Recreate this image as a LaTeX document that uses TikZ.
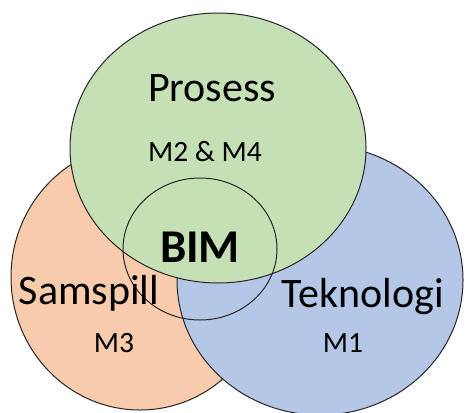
\documentclass[tikz,border=0pt]{standalone}
\usepackage{fontspec}
\setmainfont{Carlito}
\definecolor{gfill}{HTML}{C5E0B4}
\definecolor{ofill}{HTML}{F8CBAD}
\definecolor{bfill}{HTML}{B4C7E7}
\definecolor{edge}{HTML}{262626}
\begin{document}
\begin{tikzpicture}[x=1pt,y=-1pt,
  setshape/.style={draw=edge,line width=1pt},
  big/.style={font=\fontsize{42}{42}\selectfont,inner sep=0pt},
  small/.style={font=\fontsize{29.5}{29.5}\selectfont,inner sep=0pt},
  bimtext/.style={font=\fontsize{47}{47}\selectfont\bfseries,inner sep=0pt}]
\useasboundingbox (0,0) rectangle (465,412);
\fill[ofill] (140,277) ellipse [x radius=129, y radius=133];
\draw[setshape] (140,277) ellipse [x radius=129, y radius=133];
\fill[bfill] (320,280) ellipse [x radius=143, y radius=135];
\draw[setshape] (320,280) ellipse [x radius=143, y radius=135];
\fill[gfill] (218,148) ellipse [x radius=148, y radius=135];
\draw[setshape] (218,148) ellipse [x radius=148, y radius=135];
\draw[setshape] (200,249) ellipse [x radius=77, y radius=71];
\node[big] (prosess) at (212,88) {Prosess};
\node[small] (m24) at (205,152) {M2 \& M4};
\node[bimtext] (bim) at (200,247) {BIM};
\node[big] (samspill) at (89,293) {Samspill};
\node[small] (m3) at (114,343) {M3};
\node[big] (tek) at (363,297) {Teknologi};
\node[small] (m1) at (343,343) {M1};
\end{tikzpicture}
\end{document}
